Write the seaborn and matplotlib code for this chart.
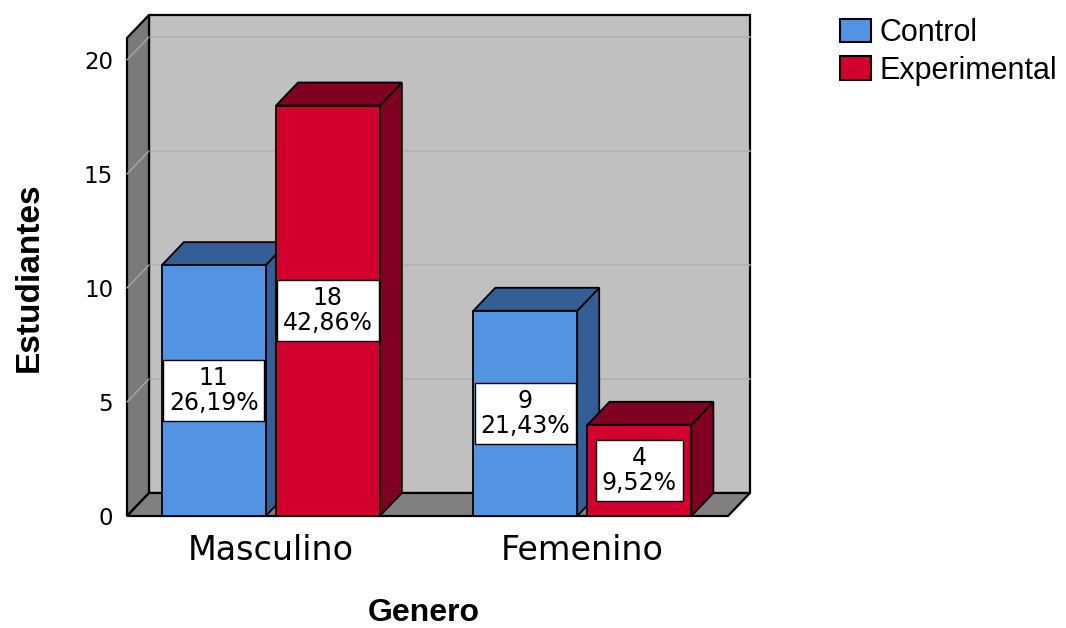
import matplotlib
import matplotlib.pyplot as plt
import numpy as np
import pandas as pd
import seaborn as sns
from matplotlib.colors import to_hex
from matplotlib.patches import Patch, Polygon

matplotlib.use("Agg")

# data
generos = ["Masculino", "Femenino"]
grupos = ["Control", "Experimental"]
control = [11, 9]
experimental = [18, 4]
y_ticks = [0, 5, 10, 15, 20]

front_colors = {"Control": "#5294E2", "Experimental": "#D3002E"}
dark_colors = {"Control": "#335F96", "Experimental": "#7F0020"}

df = pd.DataFrame({
    "Genero": generos * 2,
    "Grupo": ["Control"] * 2 + ["Experimental"] * 2,
    "Estudiantes": control + experimental,
})
total = df["Estudiantes"].sum()

sns.set_style("white")
plt.rcParams["font.family"] = ["DejaVu Sans"]
plt.rcParams.update({"text.color": "black", "axes.labelcolor": "black",
                     "xtick.color": "black", "ytick.color": "black"})

W, H = 1066, 628
fig = plt.figure(figsize=(W / 100, H / 100), dpi=100)
ax = fig.add_axes([127 / W, (H - 516) / H, (750 - 127) / W, (516 - 15) / H])

sns.barplot(
    data=df, x="Genero", y="Estudiantes", hue="Grupo", order=generos,
    hue_order=grupos, palette=front_colors, saturation=1, width=0.733,
    gap=0.09, edgecolor="black", linewidth=1.3, errorbar=None,
    legend=False, ax=ax,
)

ax.set_xlim(-0.4618, 1.5382)
ax.set_ylim(0, 21.97)
x0, x1 = ax.get_xlim()
y0, ytop = ax.get_ylim()

# depth of the pseudo-3D box, in pixels -> data units
px_x = ax.bbox.width / (x1 - x0)
px_y = ax.bbox.height / (ytop - y0)
DX = 22 / px_x
DY = 23 / px_y

wall_kw = dict(edgecolor="black", linewidth=1.6, clip_on=False)
# back wall
ax.add_patch(Polygon([(x0 + DX, DY), (x1, DY), (x1, ytop), (x0 + DX, ytop)],
                     facecolor="#C0C0C0", zorder=0.5, **wall_kw))
# left wall
ax.add_patch(Polygon([(x0, 0), (x0 + DX, DY), (x0 + DX, ytop), (x0, ytop - DY)],
                     facecolor="#7A7A7A", zorder=0.6, **wall_kw))
# floor
ax.add_patch(Polygon([(x0, 0), (x1 - DX, 0), (x1, DY), (x0 + DX, DY)],
                     facecolor="#808080", zorder=0.7, **wall_kw))
for t in y_ticks[1:]:
    ax.plot([x0 + DX, x1], [t + DY, t + DY], color="#B2B2B2", lw=1.2,
            zorder=0.55, clip_on=False)
    ax.plot([x0, x0 + DX], [t, t + DY], color="#A8A8A8", lw=1.0,
            zorder=0.65, clip_on=False)

bars = sorted(ax.patches[:len(df)], key=lambda p: p.get_x())
for i, p in enumerate(bars):
    x, w, h = p.get_x(), p.get_width(), p.get_height()
    hue = [g for g, c in front_colors.items()
           if c.lower() == to_hex(p.get_facecolor())][0]
    z = 3 + i * 0.1
    side = Polygon([(x + w, 0), (x + w + DX, DY), (x + w + DX, h + DY), (x + w, h)],
                   facecolor=dark_colors[hue], edgecolor="black", lw=1.3, zorder=z)
    top = Polygon([(x, h), (x + DX, h + DY), (x + w + DX, h + DY), (x + w, h)],
                  facecolor=dark_colors[hue], edgecolor="black", lw=1.3, zorder=z)
    ax.add_patch(side)
    ax.add_patch(top)
    p.set_zorder(z + 0.05)
    pct = f"{h / total * 100:.2f}".replace(".", ",")
    ax.text(x + w / 2, h / 2, f"{int(h)}\n{pct}%", ha="center", va="center",
            multialignment="center", fontsize=17, linespacing=1.05,
            zorder=z + 0.08,
            bbox=dict(boxstyle="square,pad=0.25", facecolor="white",
                      edgecolor="black", lw=1.0))

for s in ax.spines.values():
    s.set_visible(False)
ax.set_yticks(y_ticks)
ax.tick_params(axis="y", length=0, pad=10, labelsize=16.5)
ax.tick_params(axis="x", length=0, pad=13, labelsize=24)
ax.set_facecolor("none")

ax.set_xlabel("Genero", fontsize=23, fontweight="bold", family="Liberation Sans")
ax.set_ylabel("Estudiantes", fontsize=24, fontweight="bold", family="Liberation Sans")
ax.xaxis.set_label_coords((424 - 127) / 623, (516 - 598) / 501)
ax.yaxis.set_label_coords((45 - 127) / 623, (516 - 277) / 501)

handles = [Patch(facecolor=front_colors[g], edgecolor="black", lw=1.5) for g in grupos]
ax.legend(handles, grupos, loc="upper left", bbox_to_anchor=(840 / W, 1 - 18 / H),
          bbox_transform=fig.transFigure, frameon=False,
          prop={"family": "Liberation Sans", "size": 22},
          handlelength=1.0, handleheight=0.8, handletextpad=0.3,
          labelspacing=0.25, borderaxespad=0, borderpad=0)

fig.savefig("out.png", dpi=100)
